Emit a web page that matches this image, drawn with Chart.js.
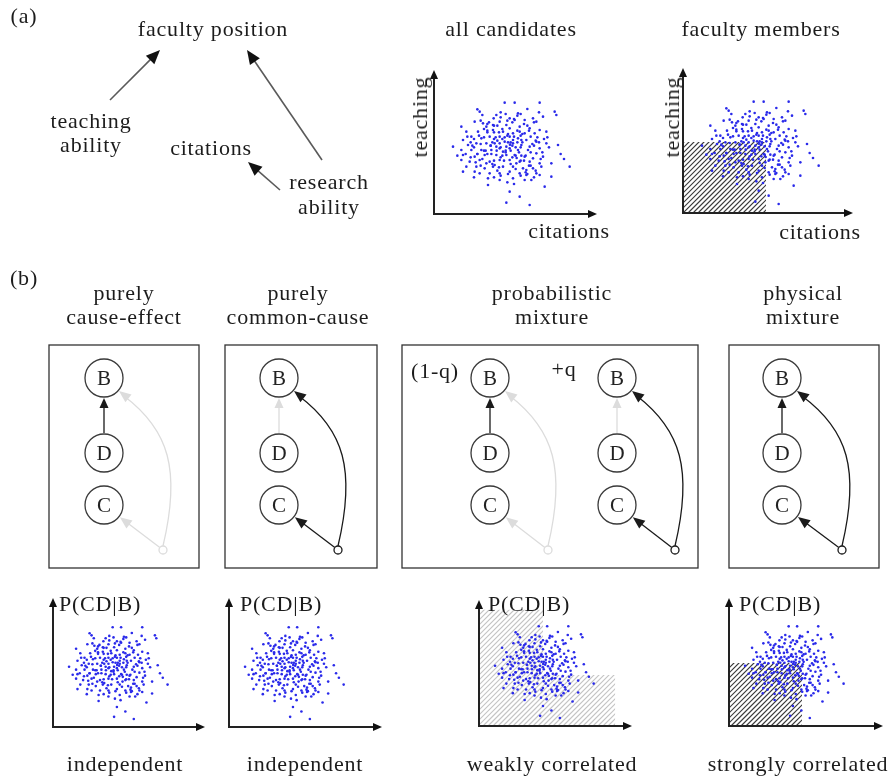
<!DOCTYPE html>
<html>
<head>
<meta charset="utf-8">
<script src="https://cdn.jsdelivr.net/npm/chart.js@4.4.1/dist/chart.umd.min.js"></script>
<style>
body { margin:0; background:#fff; width:896px; height:776px; overflow:hidden; position:relative;
       font-family:"Liberation Serif","Times New Roman",serif; }
.t { position:absolute; font-size:22px; line-height:24px; letter-spacing:0.8px; color:#1c1c1c;
     white-space:nowrap; text-align:center; transform:translateX(-50%); }
.r { transform:translate(-50%,-50%) rotate(-90deg); }
canvas { position:absolute; }
</style>
</head>
<body>
<canvas id="bg" width="896" height="776" style="left:0;top:0"></canvas>
<canvas id="a1"></canvas>
<canvas id="a2"></canvas>
<canvas id="b1"></canvas>
<canvas id="b2"></canvas>
<canvas id="b3"></canvas>
<canvas id="b4"></canvas>

<div class="t" style="left:24px;top:4px">(a)</div>
<div class="t" style="left:213px;top:17px">faculty position</div>
<div class="t" style="left:91px;top:109px">teaching<br>ability</div>
<div class="t" style="left:211px;top:136px">citations</div>
<div class="t" style="left:329px;top:169px;line-height:25px">research<br>ability</div>
<div class="t" style="left:511px;top:17px">all candidates</div>
<div class="t" style="left:761px;top:17px">faculty members</div>
<div class="t r" style="left:420px;top:117px">teaching</div>
<div class="t" style="left:569px;top:219px">citations</div>
<div class="t r" style="left:672px;top:117px">teaching</div>
<div class="t" style="left:820px;top:220px">citations</div>

<div class="t" style="left:24px;top:266px">(b)</div>
<div class="t" style="left:124px;top:281px">purely<br>cause-effect</div>
<div class="t" style="left:298px;top:281px">purely<br>common-cause</div>
<div class="t" style="left:552px;top:281px">probabilistic<br>mixture</div>
<div class="t" style="left:803px;top:281px">physical<br>mixture</div>
<div class="t" style="left:435px;top:359px">(1-q)</div>
<div class="t" style="left:564px;top:357px">+q</div>

<div class="t" style="left:100px;top:592px">P(CD|B)</div>
<div class="t" style="left:281px;top:592px">P(CD|B)</div>
<div class="t" style="left:529px;top:592px">P(CD|B)</div>
<div class="t" style="left:780px;top:592px">P(CD|B)</div>
<div class="t" style="left:125px;top:752px">independent</div>
<div class="t" style="left:305px;top:752px">independent</div>
<div class="t" style="left:552px;top:752px">weakly correlated</div>
<div class="t" style="left:798px;top:752px">strongly correlated</div>

<script>
const cloudX = [212,242,317,130,137,362,367,145,187,252,179,227,297,327,82,122,147,197,242,272,
  307,157,217,257,287,317,97,132,177,207,237,272,302,337,57,87,112,142,167,197,
  227,252,277,307,337,372,102,127,157,182,212,237,262,287,317,82,112,142,172,197,
  227,252,282,307,87,122,152,187,217,242,272,297,327,82,107,137,167,197,227,257,
  287,317,352,407,87,122,152,177,207,237,267,297,322,97,137,167,197,227,257,277,
  307,352,162,197,237,272,292,332,227,257,217,287,150,177,227,257,197,217,237,262,
  187,207,157,182,247,127,162,277,317,205,222,235,245,215,230,190,200,250,260,222,
  205,235,170,180,195,255,265,240,212,228,188,172,248,262,290,300,150,160,140,130,
  145,195,210,180,270,285,222,120,110,
  100,115,130,160,175,190,205,220,250,265,280,295,310,325,340,160,175,190,230,245,
  260,275,290,305,120,135,150,165,180,200,215,235,250,270,285,300,315,330,345,95,
  110,125,140,155,170,185,200,215,230,245,260,275,290,305,320,140,160,180,200,220,
  240,260,280,300,180,200,220,240,260,280,70,380,390,120,315];
const cloudY = [334,334,334,314,307,307,297,297,297,302,287,287,287,292,262,277,272,277,282,282,
  277,262,267,262,257,252,247,247,252,247,242,242,242,247,202,222,232,227,232,232,
  232,227,222,217,212,207,207,212,212,212,217,212,207,202,197,192,192,192,192,197,
  197,192,192,182,177,172,177,177,177,177,172,167,172,162,157,162,157,162,162,157,
  157,152,152,142,127,127,137,142,142,142,137,137,142,142,122,122,122,127,122,117,
  122,112,87,102,107,102,102,82,67,52,34,27,255,267,257,247,212,202,222,222,
  202,187,152,147,152,142,107,132,117,225,215,205,200,185,190,220,200,215,235,240,
  175,170,205,225,245,185,215,232,230,208,190,180,168,175,232,205,230,245,210,180,
  165,140,160,160,160,145,120,225,170,
  232,205,180,250,215,265,255,235,250,240,265,210,230,185,230,180,150,130,150,135,
  160,125,145,130,200,235,190,275,245,290,300,275,295,270,250,275,215,225,200,180,
  215,155,145,190,205,230,170,190,215,175,200,175,185,220,165,280,270,110,115,95,
  90,115,120,110,265,305,280,285,300,315,175,180,165,110,305];

// causal graphs in panel (b): one column per graph
const graphX   = [104, 279, 490, 617, 782];
const hubX     = [163, 338, 548, 675, 842];
const directOn = [true, false, true, false, true];   // D -> B
const commonOn = [false, true, false, true, true];   // hidden common cause -> B and C
const nodeLabels = ['B', 'D', 'C'];
const nodeY = [378, 453, 505];
const hubY = 550;

// causal diagram in panel (a): [fromX, fromY, toX, toY]
const diagramArrows = [[110, 100, 160, 50], [322, 160, 247, 50], [280, 190, 248, 162]];

const boxes = [[49, 199], [225, 377], [402, 698], [729, 879]];
const boxTop = 345, boxBottom = 568;

const ON = '#1a1a1a', OFF = '#dcdcdc';

function arrowHead(ctx, x1, y1, ang, len, w, color) {
  const bx = x1 - len * Math.cos(ang), by = y1 - len * Math.sin(ang);
  ctx.fillStyle = color;
  ctx.beginPath();
  ctx.moveTo(x1, y1);
  ctx.lineTo(bx + w * Math.sin(ang), by - w * Math.cos(ang));
  ctx.lineTo(bx - w * Math.sin(ang), by + w * Math.cos(ang));
  ctx.closePath();
  ctx.fill();
}

function arrow(ctx, x0, y0, x1, y1, color, lw, len, w, headColor) {
  const ang = Math.atan2(y1 - y0, x1 - x0);
  ctx.strokeStyle = color;
  ctx.lineWidth = lw;
  ctx.beginPath();
  ctx.moveTo(x0, y0);
  ctx.lineTo(x1 - len * 0.8 * Math.cos(ang), y1 - len * 0.8 * Math.sin(ang));
  ctx.stroke();
  arrowHead(ctx, x1, y1, ang, len, w, headColor || color);
}

const diagramPlugin = {
  id: 'diagram',
  beforeDatasetsDraw(chart) {
    const ctx = chart.ctx, sx = chart.scales.x, sy = chart.scales.y;
    const X = v => sx.getPixelForValue(v), Y = v => sy.getPixelForValue(v);
    ctx.save();
    // panel (a) arrows
    diagramArrows.forEach(a => arrow(ctx, X(a[0]), Y(a[1]), X(a[2]), Y(a[3]), '#5a5a5a', 1.6, 14, 6, '#111'));
    // boxes
    ctx.strokeStyle = '#333';
    ctx.lineWidth = 1.3;
    boxes.forEach(b => ctx.strokeRect(X(b[0]), Y(boxTop), X(b[1]) - X(b[0]), Y(boxBottom) - Y(boxTop)));
    // graph edges
    graphX.forEach((gx, i) => {
      const hx = hubX[i];
      // D -> B
      const cd = directOn[i] ? ON : OFF;
      arrow(ctx, X(gx), Y(nodeY[1] - 20), X(gx), Y(nodeY[0] + 20), cd, 1.3, 10, 4.5);
      // hub -> C
      const cc = commonOn[i] ? ON : OFF;
      const dx = hx - gx, dy = hubY - nodeY[2], d = Math.hypot(dx, dy);
      arrow(ctx, X(hx - 4 * dx / d), Y(hubY - 4 * dy / d), X(gx + 20 * dx / d), Y(nodeY[2] + 20 * dy / d), cc, 1.3, 12, 5);
      // hub -> B (curved)
      const p0 = [hx, hubY - 4], p1 = [hx + 18, hubY - 80], p2 = [hx + 6, nodeY[0] + 52], p3 = [gx + 15, nodeY[0] + 13];
      ctx.strokeStyle = cc;
      ctx.lineWidth = 1.3;
      ctx.beginPath();
      ctx.moveTo(X(p0[0]), Y(p0[1]));
      ctx.bezierCurveTo(X(p1[0]), Y(p1[1]), X(p2[0]), Y(p2[1]), X(p3[0]) + 5, Y(p3[1]) + 5);
      ctx.stroke();
      arrowHead(ctx, X(p3[0]), Y(p3[1]), Math.atan2(p3[1] - p2[1], p3[0] - p2[0]), 12, 5, cc);
    });
    ctx.restore();
  },
  afterDatasetsDraw(chart) {
    const ctx = chart.ctx, sx = chart.scales.x, sy = chart.scales.y;
    ctx.save();
    ctx.font = '21px "Liberation Serif"';
    ctx.fillStyle = '#222';
    ctx.textAlign = 'center';
    ctx.textBaseline = 'middle';
    graphX.forEach(gx => nodeY.forEach((ny, j) =>
      ctx.fillText(nodeLabels[j], sx.getPixelForValue(gx), sy.getPixelForValue(ny) + 1)));
    ctx.restore();
  }
};

const nodePoints = [];
graphX.forEach(gx => nodeY.forEach(ny => nodePoints.push({ x: gx, y: ny })));
const hubPoints = hubX.map(hx => ({ x: hx, y: hubY }));

new Chart(document.getElementById('bg'), {
  type: 'scatter',
  data: {
    datasets: [
      { data: nodePoints, pointRadius: 19, pointBackgroundColor: '#fff', pointBorderColor: '#3a3a3a', pointBorderWidth: 1.3, clip: false },
      { data: hubPoints, pointRadius: 4, pointBackgroundColor: '#fff',
        pointBorderColor: commonOn.map(c => c ? ON : OFF), pointBorderWidth: 1.3, clip: false }
    ]
  },
  options: {
    responsive: false, animation: false, devicePixelRatio: 1,
    layout: { padding: 0, autoPadding: false },
    scales: {
      x: { type: 'linear', min: 0, max: 896, display: false },
      y: { type: 'linear', min: 0, max: 776, reverse: true, display: false }
    },
    plugins: { legend: { display: false }, tooltip: { enabled: false } },
    events: []
  },
  plugins: [diagramPlugin]
});

// small scatter panels with arrow axes and optional hatched region
function scatterPanel(id, box, xMax, yMax, hatch, hatchColor) {
  const pad = 9;
  const cv = document.getElementById(id);
  cv.width = box.w + 2 * pad;
  cv.height = box.h + 2 * pad;
  cv.style.left = (box.x - pad) + 'px';
  cv.style.top = (box.y - pad) + 'px';
  const axesPlugin = {
    id: 'axes' + id,
    beforeDatasetsDraw(chart) {
      if (!hatch) return;
      const ctx = chart.ctx, sx = chart.scales.x, sy = chart.scales.y, a = chart.chartArea;
      ctx.save();
      ctx.beginPath();
      hatch.forEach(r => {
        const x0 = sx.getPixelForValue(r[0]), x1 = sx.getPixelForValue(r[1]);
        const y0 = sy.getPixelForValue(r[2]), y1 = sy.getPixelForValue(r[3]);
        ctx.rect(x0, y1, x1 - x0, y0 - y1);
      });
      ctx.clip();
      ctx.strokeStyle = hatchColor;
      ctx.lineWidth = 1.2;
      const H = a.bottom - a.top;
      ctx.beginPath();
      for (let k = -H; k < a.right - a.left + H; k += 5) {
        ctx.moveTo(a.left + k, a.bottom);
        ctx.lineTo(a.left + k + H, a.top);
      }
      ctx.stroke();
      ctx.restore();
    },
    afterDatasetsDraw(chart) {
      const ctx = chart.ctx, a = chart.chartArea;
      ctx.save();
      ctx.strokeStyle = '#222';
      ctx.lineWidth = 2;
      ctx.beginPath();
      ctx.moveTo(a.left, a.top + 6);
      ctx.lineTo(a.left, a.bottom);
      ctx.lineTo(a.right - 6, a.bottom);
      ctx.stroke();
      arrowHead(ctx, a.left, a.top, -Math.PI / 2, 9, 4, '#111');
      arrowHead(ctx, a.right, a.bottom, 0, 9, 4, '#111');
      ctx.restore();
    }
  };
  new Chart(cv, {
    type: 'scatter',
    data: {
      datasets: [{
        data: cloudX.map((x, i) => ({ x: x, y: cloudY[i] })),
        pointRadius: 1.3, pointBackgroundColor: '#2a2aea', pointBorderWidth: 0
      }]
    },
    options: {
      responsive: false, animation: false, devicePixelRatio: 1,
      layout: { padding: pad, autoPadding: false },
      scales: {
        x: { type: 'linear', min: 0, max: xMax, display: false },
        y: { type: 'linear', min: 0, max: yMax, display: false }
      },
      plugins: { legend: { display: false }, tooltip: { enabled: false } },
      events: []
    },
    plugins: [axesPlugin]
  });
}

scatterPanel('a1', { x: 434, y: 70, w: 163, h: 144 }, 489, 432);
scatterPanel('a2', { x: 683, y: 68, w: 170, h: 145 }, 510, 435, [[0, 249, 0, 213]], '#3c3c3c');
scatterPanel('b1', { x: 53, y: 598, w: 152, h: 129 }, 540, 432);
scatterPanel('b2', { x: 229, y: 598, w: 153, h: 129 }, 543, 432);
scatterPanel('b3', { x: 479, y: 600, w: 153, h: 126 }, 543, 422, [[0, 227, 0, 389], [0, 483, 0, 171]], '#c4c4c4');
scatterPanel('b4', { x: 729, y: 598, w: 154, h: 128 }, 547, 429, [[0, 259, 0, 211]], '#3c3c3c');
</script>
</body>
</html>
